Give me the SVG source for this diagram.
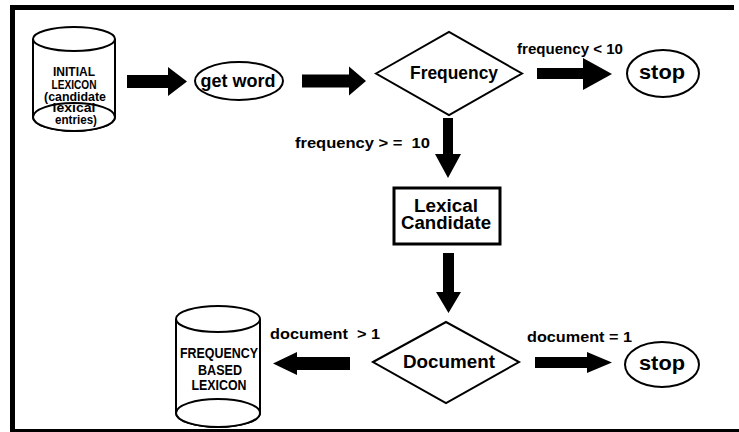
<svg xmlns="http://www.w3.org/2000/svg" width="739" height="432" viewBox="0 0 739 432">
  <style>
    .shape { fill: #fff; stroke: #000; stroke-width: 2; }
    .box { fill: #fff; stroke: #000; stroke-width: 3; }
    .arrow { fill: #000; stroke: none; }
    text { font-family: "Liberation Sans", Arial, Helvetica, sans-serif; font-weight: bold; fill: #000; }
    .node { font-size: 18px; text-anchor: middle; }
    .stop { font-size: 20px; text-anchor: middle; }
    .db { font-size: 13px; text-anchor: middle; }
    .db2 { font-size: 15px; text-anchor: middle; }
    .lbl { font-size: 15px; }
  </style>
  <rect width="739" height="432" fill="#fff"/>

  <!-- frame -->
  <g id="frame" fill="#000">
    <rect x="10" y="5" width="724" height="5"/>
    <rect x="10" y="5" width="5" height="427"/>
    <rect x="10" y="429" width="729" height="3"/>
  </g>

  <!-- connectors -->
  <g id="connectors" class="arrow">
    <polygon points="127,75 168,75 168,67 187,81.5 168,96 168,88 127,88"/>
    <polygon points="302,74.5 349,74.5 349,66.5 366,81 349,95.5 349,87.5 302,87.5"/>
    <polygon points="537,68 583,68 583,58 612,74 583,90 583,79 537,79"/>
    <polygon points="443,118 453,118 453,154 461,154 448,178 435,154 443,154"/>
    <polygon points="443,253 454,253 454,292 461,292 448.5,313 436,292 443,292"/>
    <polygon points="350,357 297,357 297,352 273,363.5 297,375 297,370 350,370"/>
    <polygon points="535,357 587,357 587,352 612,362.5 587,373 587,368 535,368"/>
  </g>
  <g id="edge-labels">
    <text class="lbl" x="517" y="54" textLength="106" lengthAdjust="spacingAndGlyphs">frequency &lt; 10</text>
    <text class="lbl" x="295" y="148" textLength="135" lengthAdjust="spacingAndGlyphs" xml:space="preserve">frequency &gt; =  10</text>
    <text class="lbl" x="270" y="339" textLength="110" lengthAdjust="spacingAndGlyphs" xml:space="preserve">document  &gt; 1</text>
    <text class="lbl" x="527" y="342" textLength="105" lengthAdjust="spacingAndGlyphs">document = 1</text>
  </g>

  <!-- initial lexicon store -->
  <g id="initial-lexicon">
    <path class="shape" d="M33,39 V117 A41,14 0 0 0 115,117 V39"/>
    <ellipse class="shape" cx="74" cy="117" rx="41" ry="14"/>
    <ellipse class="shape" cx="74" cy="39" rx="41" ry="12"/>
    <text class="db" x="74" y="76" textLength="42" lengthAdjust="spacingAndGlyphs">INITIAL</text>
    <text class="db" x="74" y="89" textLength="45" lengthAdjust="spacingAndGlyphs">LEXICON</text>
    <text class="db" x="75" y="101" textLength="62" lengthAdjust="spacingAndGlyphs">(candidate</text>
    <text class="db" x="74" y="112" textLength="43" lengthAdjust="spacingAndGlyphs">lexical</text>
    <text class="db" x="76" y="124" textLength="42" lengthAdjust="spacingAndGlyphs">entries)</text>
  </g>

  <g id="get-word">
    <ellipse class="shape" cx="239" cy="81" rx="44" ry="19"/>
    <text class="node" x="238" y="87" font-size="19" textLength="75" lengthAdjust="spacingAndGlyphs">get word</text>
  </g>

  <g id="frequency">
    <polygon class="shape" points="376,73.5 449,32 522,73.5 449,115"/>
    <text class="node" x="454" y="79" textLength="88" lengthAdjust="spacingAndGlyphs">Frequency</text>
  </g>

  <g id="stop-1">
    <ellipse class="shape" cx="663" cy="73.5" rx="36" ry="23.5"/>
    <text class="stop" x="662" y="79" textLength="46" lengthAdjust="spacingAndGlyphs">stop</text>
  </g>

  <g id="lexical-candidate">
    <rect class="box" x="394" y="188" width="106" height="56"/>
    <text class="node" x="446" y="212" textLength="64" lengthAdjust="spacingAndGlyphs">Lexical</text>
    <text class="node" x="446" y="229" textLength="90" lengthAdjust="spacingAndGlyphs">Candidate</text>
  </g>

  <g id="document">
    <polygon class="shape" points="373,362 446,322 519,362 446,403"/>
    <text class="node" x="449" y="368" textLength="92" lengthAdjust="spacingAndGlyphs">Document</text>
  </g>

  <g id="stop-2">
    <ellipse class="shape" cx="662" cy="364.5" rx="37" ry="22.5"/>
    <text class="stop" x="662" y="370" textLength="46" lengthAdjust="spacingAndGlyphs">stop</text>
  </g>

  <!-- frequency based lexicon store -->
  <g id="frequency-based-lexicon">
    <path class="shape" d="M176,319 V413 A42,14 0 0 0 260,413 V319"/>
    <ellipse class="shape" cx="218" cy="413" rx="42" ry="14"/>
    <ellipse class="shape" cx="218" cy="319" rx="42" ry="13"/>
    <text class="db2" x="219" y="358" textLength="78" lengthAdjust="spacingAndGlyphs">FREQUENCY</text>
    <text class="db2" x="220" y="375" textLength="44" lengthAdjust="spacingAndGlyphs">BASED</text>
    <text class="db2" x="219" y="390" textLength="55" lengthAdjust="spacingAndGlyphs">LEXICON</text>
  </g>
</svg>
